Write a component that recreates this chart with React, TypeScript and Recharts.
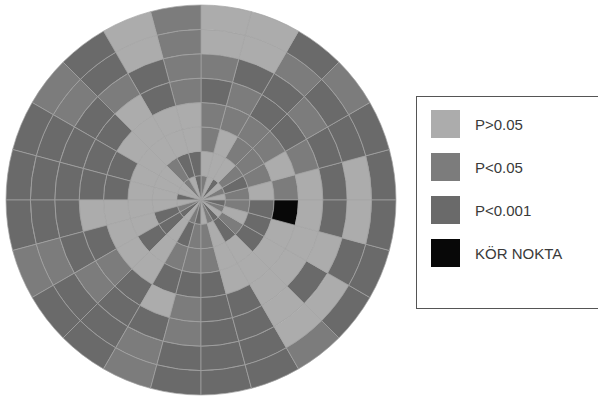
import { Pie, PieChart, Cell } from 'recharts'

// visual field significance map: 8 rings (inner -> outer), 24 sectors each,
// sector 0 starts at 3 o'clock and goes counter-clockwise
// L = P>0.05, M = P<0.05, D = P<0.001, B = blind spot
const ring1 = ['L', 'M', 'L', 'D', 'L', 'M', 'D', 'L', 'M', 'L', 'L', 'D', 'L', 'M', 'D', 'L', 'M', 'D', 'L', 'M', 'D', 'L', 'M', 'D']
const ring2 = ['M', 'D', 'M', 'L', 'L', 'L', 'D', 'D', 'M', 'L', 'L', 'L', 'L', 'D', 'D', 'L', 'D', 'M', 'M', 'L', 'D', 'M', 'L', 'M']
const ring3 = ['L', 'M', 'M', 'M', 'L', 'M', 'L', 'L', 'L', 'L', 'L', 'L', 'L', 'L', 'D', 'L', 'M', 'M', 'M', 'L', 'L', 'D', 'D', 'D']
const ring4 = ['M', 'L', 'M', 'M', 'M', 'M', 'L', 'L', 'L', 'L', 'D', 'D', 'L', 'L', 'L', 'L', 'D', 'D', 'D', 'L', 'L', 'L', 'L', 'B']
const ring5 = ['L', 'M', 'D', 'D', 'M', 'D', 'M', 'D', 'L', 'D', 'D', 'D', 'L', 'D', 'M', 'D', 'L', 'M', 'D', 'D', 'L', 'L', 'L', 'L']
const ring6 = ['D', 'D', 'M', 'D', 'D', 'M', 'M', 'D', 'M', 'D', 'D', 'D', 'D', 'D', 'M', 'D', 'D', 'M', 'D', 'D', 'L', 'D', 'L', 'D']
const ring7 = ['L', 'D', 'D', 'M', 'L', 'L', 'M', 'L', 'D', 'M', 'D', 'D', 'D', 'M', 'D', 'D', 'M', 'D', 'D', 'D', 'L', 'L', 'D', 'L']
const ring8 = ['D', 'D', 'M', 'D', 'L', 'L', 'M', 'L', 'D', 'M', 'D', 'D', 'D', 'M', 'D', 'D', 'M', 'D', 'D', 'D', 'M', 'D', 'D', 'D']

const rings = [ring1, ring2, ring3, ring4, ring5, ring6, ring7, ring8]

const legendLabels = ['P>0.05', 'P<0.05', 'P<0.001', 'KÖR NOKTA']
const legendLevels = ['L', 'M', 'D', 'B']

const levelColors: Record<string, string> = {
  L: '#acacac',
  M: '#7c7c7c',
  D: '#6a6a6a',
  B: '#080808',
}

const CX = 201
const CY = 200
const R = 195

export default function App() {
  const step = R / rings.length

  return (
    <div style={{ position: 'absolute', left: 0, top: 0, width: 598, height: 401, background: '#fff' }}>
      <PieChart width={598} height={401} margin={{ top: 0, right: 0, bottom: 0, left: 0 }}>
        {rings.map((ring, k) => (
          <Pie
            key={k}
            data={ring.map((level, i) => ({ name: `s${i}`, value: 1, level }))}
            dataKey="value"
            cx={CX}
            cy={CY}
            innerRadius={k * step}
            outerRadius={(k + 1) * step}
            startAngle={0}
            endAngle={360}
            paddingAngle={0}
            stroke="#a4a4a4"
            strokeWidth={0.7}
            isAnimationActive={false}
          >
            {ring.map((level, i) => (
              <Cell key={i} fill={levelColors[level]} />
            ))}
          </Pie>
        ))}
      </PieChart>

      <div
        style={{
          position: 'absolute',
          left: 416,
          top: 96,
          width: 190,
          height: 213,
          border: '1px solid #555',
          boxSizing: 'border-box',
          fontFamily: '"Liberation Sans", Arial, sans-serif',
        }}
      >
        {legendLabels.map((label, i) => (
          <div
            key={label}
            style={{ position: 'absolute', left: 14, top: 13 + i * 43, display: 'flex', alignItems: 'center' }}
          >
            <span
              style={{
                width: 29,
                height: 28,
                display: 'inline-block',
                background: levelColors[legendLevels[i]],
              }}
            />
            <span style={{ marginLeft: 15, fontSize: 15, color: '#3a3a3a' }}>{label}</span>
          </div>
        ))}
      </div>
    </div>
  )
}
